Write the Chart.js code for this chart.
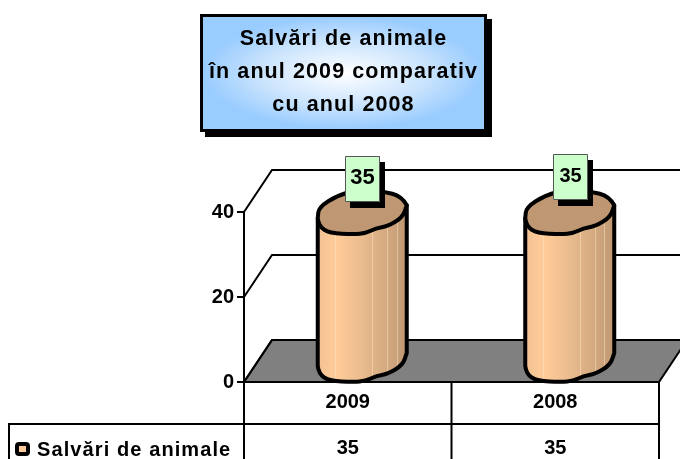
<!DOCTYPE html>
<html>
<head>
<meta charset="utf-8">
<title>Salvări de animale</title>
<script src="https://cdn.jsdelivr.net/npm/chart.js@4"></script>
<style>
  html, body { margin: 0; padding: 0; background: #fff; overflow: hidden; }
  #wrap { position: relative; width: 680px; height: 459px; }
  #myGraph { position: absolute; left: 0; top: 0; }
  #titleBox {
    position: absolute; left: 200px; top: 14px; width: 281px; height: 107px;
    border: 3px solid #000; box-shadow: 5px 5px 0 #000;
    background: radial-gradient(ellipse closest-side at center, #fff 0%, #c9e3fd 60%, #99ccff 100%);
    font: bold 21.5px "Liberation Sans", Arial, sans-serif; letter-spacing: 1.1px; color: #000;
    text-align: center; line-height: 33px; padding-top: 5px;
    white-space: nowrap;
  }
</style>
</head>
<body>
<div id="wrap">
  <canvas id="myGraph" width="680" height="459"></canvas>
  <div id="titleBox"></div>
</div>
<script>
const titleLines = ['Salvări de animale', 'în anul 2009 comparativ', 'cu anul 2008'];
const categories = ['2009', '2008'];
const salvari = [35, 35];
const seriesName = 'Salvări de animale';
const yTicks = [0, 20, 40];

document.getElementById('titleBox').innerHTML = titleLines.join('<br>');

const FONT = '"Liberation Sans", Arial, sans-serif';
const depthX = 28, depthY = 42;

// wobbly outline of the cylinder end, offsets from the front centre
const frontEdge = [[-44, -15], [-43, -7], [-32, 0], [-8, 1], [4, 0], [14, -5], [26, -7], [41, -16], [45, -28]];
const backEdge = [[40, -37], [21, -42], [-2, -44], [-24, -38], [-43, -26]];
const stripes = [0.2, 0.62, 0.79, 0.9];

function smooth(p, pts) {
  for (let i = 1; i < pts.length - 1; i++) {
    const mx = (pts[i][0] + pts[i + 1][0]) / 2, my = (pts[i][1] + pts[i + 1][1]) / 2;
    p.quadraticCurveTo(pts[i][0], pts[i][1], mx, my);
  }
  p.lineTo(pts[pts.length - 1][0], pts[pts.length - 1][1]);
}

function shift(pts, cx, cy) {
  return pts.map(p => [cx + p[0], cy + p[1]]);
}

const decor3d = {
  id: 'decor3d',
  beforeDatasetsDraw(chart) {
    const c = chart.ctx, a = chart.chartArea, y = chart.scales.y;
    c.save();
    // floor
    c.beginPath();
    c.moveTo(a.left, a.bottom);
    c.lineTo(a.right, a.bottom);
    c.lineTo(a.right + depthX, a.bottom - depthY);
    c.lineTo(a.left + depthX, a.bottom - depthY);
    c.closePath();
    c.fillStyle = '#808080';
    c.fill();
    c.strokeStyle = '#000';
    c.lineWidth = 2;
    c.stroke();
    // back wall and side wall lines
    yTicks.forEach(t => {
      const py = y.getPixelForValue(t);
      c.beginPath();
      c.moveTo(a.left, py);
      c.lineTo(a.left + depthX, py - depthY);
      c.lineTo(a.right + depthX, py - depthY);
      c.stroke();
    });
    c.restore();
  },
  afterDatasetsDraw(chart) {
    const c = chart.ctx;
    const meta = chart.getDatasetMeta(0);
    c.save();
    meta.data.forEach((bar, i) => {
      const cx = bar.x + depthX / 2, top = bar.y, h = bar.base - bar.y;
      const half = bar.width / 2;
      const topFront = shift(frontEdge, cx, top);
      const botFront = shift(frontEdge, cx, top + h);
      const last = frontEdge.length - 1;

      // body
      const body = new Path2D();
      body.moveTo(topFront[0][0], topFront[0][1]);
      body.lineTo(botFront[0][0], botFront[0][1]);
      smooth(body, botFront);
      body.lineTo(topFront[last][0], topFront[last][1]);
      body.closePath();
      const g = c.createLinearGradient(cx - half, 0, cx + half, 0);
      g.addColorStop(0, '#F2C293');
      g.addColorStop(0.22, '#FFCC99');
      g.addColorStop(0.55, '#E6B98C');
      g.addColorStop(0.8, '#D2A87F');
      g.addColorStop(1, '#BF9873');
      c.fillStyle = g;
      c.fill(body);
      c.save();
      c.clip(body);
      c.strokeStyle = 'rgba(255,235,205,0.45)';
      c.lineWidth = 1;
      stripes.forEach(s => {
        const sx = Math.round(cx - half + s * bar.width) + 0.5;
        c.beginPath();
        c.moveTo(sx, top - depthY);
        c.lineTo(sx, bar.base);
        c.stroke();
      });
      c.restore();
      c.strokeStyle = '#000';
      c.lineWidth = 4;
      c.lineJoin = 'round';
      c.stroke(body);

      // top
      const cap = new Path2D();
      cap.moveTo(topFront[0][0], topFront[0][1]);
      smooth(cap, topFront);
      smooth(cap, [topFront[last]].concat(shift(backEdge, cx, top), [topFront[0]]));
      cap.closePath();
      c.fillStyle = '#BF9873';
      c.fill(cap);
      c.stroke(cap);

      // value label
      const bw = 35, bh = 46;
      const bx = Math.round(cx - bw / 2 + 1), by = Math.round(top - depthY / 2 - 33 - bh / 2) - i * 2;
      c.fillStyle = '#000';
      c.fillRect(bx + 5, by + 6, bw, bh);
      c.fillStyle = '#CCFFCC';
      c.fillRect(bx, by, bw, bh);
      c.strokeStyle = '#555';
      c.lineWidth = 1;
      c.strokeRect(bx + 0.5, by + 0.5, bw - 1, bh - 1);
      c.fillStyle = '#000';
      c.font = 'bold ' + (i === 0 ? 22 : 20) + 'px ' + FONT;
      c.textAlign = 'center';
      c.textBaseline = 'middle';
      c.fillText(String(salvari[i]), bx + bw / 2, by + bh / 2 - 1);
    });
    c.restore();
  },
  afterDraw(chart) {
    const c = chart.ctx, a = chart.chartArea, xs = chart.scales.x;
    const rowTop = 424, bottom = chart.height;
    c.save();
    c.strokeStyle = '#000';
    c.lineWidth = 2;
    // table lines
    c.beginPath();
    c.moveTo(9, bottom);
    c.lineTo(9, rowTop);
    c.lineTo(a.right, rowTop);
    c.moveTo(a.left, a.bottom);
    c.lineTo(a.left, bottom);
    [0, 1, 2].forEach(i => {
      const x = a.left + i * (a.right - a.left) / categories.length;
      c.moveTo(x, a.bottom);
      c.lineTo(x, bottom);
    });
    c.stroke();
    // data row
    c.fillStyle = '#000';
    c.font = 'bold 20px ' + FONT;
    c.textBaseline = 'middle';
    c.textAlign = 'center';
    salvari.forEach((v, i) => c.fillText(String(v), xs.getPixelForValue(i), 448));
    // legend key and series name
    c.fillStyle = '#FFCC99';
    c.lineWidth = 4;
    c.beginPath();
    c.roundRect(17, 444, 11, 10, 2);
    c.fill();
    c.stroke();
    c.fillStyle = '#000';
    c.textAlign = 'left';
    c.letterSpacing = '1.1px';
    c.fillText(seriesName, 37, 450);
    c.letterSpacing = '0px';
    c.restore();
  }
};

const ctx = document.getElementById('myGraph');

const data = {
  labels: categories,
  datasets: [{
    label: seriesName,
    data: salvari,
    backgroundColor: 'transparent',
    borderWidth: 0,
    categoryPercentage: 1,
    barPercentage: 0.424
  }]
};

const config = {
  type: 'bar',
  data: data,
  options: {
    responsive: false,
    animation: false,
    layout: { padding: { top: 212, right: 21 } },
    plugins: {
      legend: { display: false },
      tooltip: { enabled: false }
    },
    scales: {
      x: {
        afterFit(s) { s.height = 77; },
        grid: { display: false },
        border: { display: false },
        ticks: { color: '#000', padding: 0, maxRotation: 0, font: { family: FONT, size: 20, weight: 'bold' } }
      },
      y: {
        min: 0,
        max: 40,
        afterFit(s) { s.width = 244; },
        grid: { drawOnChartArea: false, color: '#000', lineWidth: 2, tickLength: 7 },
        border: { display: true, color: '#000', width: 2 },
        ticks: { stepSize: 20, color: '#000', padding: 3, font: { family: FONT, size: 20, weight: 'bold' } }
      }
    }
  },
  plugins: [decor3d]
};

const myChart = new Chart(ctx, config);
</script>
</body>
</html>
